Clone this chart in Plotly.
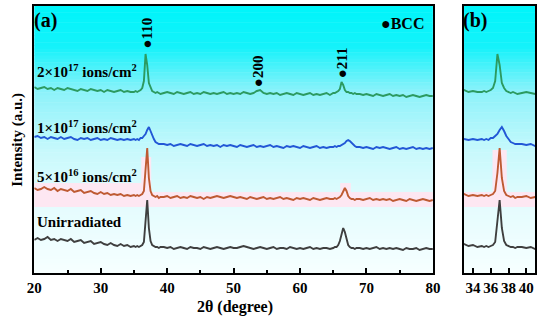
import plotly.graph_objects as go

# ---------------- data ----------------
two_theta = [
    20.0, 20.5, 21.0, 21.5, 22.0, 22.5, 23.0, 23.5, 24.0, 24.5,
    25.0, 25.5, 26.0, 26.5, 27.0, 27.5, 28.0, 28.5, 29.0, 29.5,
    30.0, 30.5, 31.0, 31.5, 32.0, 32.5, 33.0, 33.5, 34.0, 34.5,
    35.0, 35.25, 35.5, 35.75, 36.0, 36.25, 36.5, 36.75, 37.0, 37.25,
    37.5, 37.75, 38.0, 38.25, 38.5, 38.75, 39.0,
    39.5, 40.0, 40.5, 41.0, 41.5, 42.0, 42.5, 43.0, 43.5, 44.0,
    44.5, 45.0, 45.5, 46.0, 46.5, 47.0, 47.5, 48.0, 48.5, 49.0,
    49.5, 50.0, 50.5, 51.0, 51.5, 52.0, 52.5, 53.0, 53.5, 54.0,
    54.5, 55.0, 55.5, 56.0, 56.5, 57.0, 57.5, 58.0, 58.5, 59.0,
    59.5, 60.0, 60.5, 61.0, 61.5, 62.0, 62.5, 63.0, 63.5, 64.0, 64.5,
    65.0, 65.25, 65.5, 65.75, 66.0, 66.25, 66.5, 66.75, 67.0, 67.25,
    67.5, 67.75, 68.0, 68.25, 68.5,
    69.0, 69.5, 70.0, 70.5, 71.0, 71.5, 72.0, 72.5, 73.0, 73.5,
    74.0, 74.5, 75.0, 75.5, 76.0, 76.5, 77.0, 77.5, 78.0, 78.5,
    79.0, 79.5, 80.0,
]

unirradiated = [
    33, 35, 33, 34, 36, 33, 34, 32, 34, 33, 32, 34, 31, 32, 33, 30, 31, 32, 29, 30,
    31, 29, 28, 30, 28, 27, 29, 27, 28, 26,
    27, 26, 27, 26, 27, 28, 31, 50, 73, 45, 32, 28, 27, 26, 26, 25, 26,
    26, 25, 26, 24, 25, 26, 25, 24, 26, 25, 25, 24, 26, 25, 24, 25, 26, 25, 24, 25,
    26, 25, 25, 26, 27, 26, 25, 24, 25, 26, 25, 24, 25, 26, 24, 25, 25, 24, 26, 25,
    24, 25, 24, 25, 26, 24, 25, 24, 25, 25, 24,
    25, 26, 26, 28, 32, 39, 45, 41, 33, 28, 26, 25, 25, 24, 25,
    25, 24, 25, 24, 25, 26, 24, 25, 24, 25, 24, 25, 24, 23, 25, 24, 24, 25, 23, 24,
    25, 24, 24,
]

fluence_5e16 = [
    85, 83, 84, 86, 84, 83, 85, 82, 84, 83, 82, 84, 81, 82, 83, 80, 81, 82, 80, 79,
    81, 79, 80, 78, 79, 78, 79, 77, 78, 77,
    78, 77, 78, 77, 78, 79, 82, 100, 125, 95, 82, 78, 77, 76, 77, 75, 76,
    76, 77, 75, 76, 77, 75, 76, 75, 77, 76, 75, 76, 74, 76, 75, 76, 77, 76, 75, 76,
    77, 76, 75, 76, 75, 74, 76, 75, 74, 75, 76, 74, 75, 74, 75, 76, 74, 75, 74, 73,
    75, 74, 75, 74, 73, 75, 74, 73, 74, 75, 74,
    74, 75, 74, 75, 76, 78, 81, 85, 82, 77, 75, 74, 74, 73, 74,
    74, 73, 74, 75, 73, 74, 73, 74, 73, 74, 72, 73, 74, 73, 72, 74, 73, 72, 73, 74,
    73, 72, 73,
]

fluence_1e17 = [
    136, 137, 135, 136, 134, 136, 135, 134, 136, 134, 135, 136, 134, 133, 135, 134, 135, 133, 134, 135,
    133, 134, 133, 135, 134, 133, 134, 133, 134, 133,
    134, 133, 134, 133, 135, 135, 137, 139, 143, 146, 142, 137, 134, 131, 130, 129, 129,
    129, 128, 129, 127, 128, 129, 128, 127, 129, 128, 127, 128, 129, 127, 128, 127, 128, 126, 128, 127,
    128, 127, 126, 128, 127, 126, 127, 128, 126, 127, 126, 127, 128, 126, 127, 126, 125, 127, 126, 127,
    126, 125, 127, 126, 125, 126, 127, 125, 126, 125, 126,
    126, 127, 126, 127, 127, 128, 129, 130, 132, 133, 132, 130, 128, 127, 126,
    126, 125, 126, 125, 124, 126, 125, 126, 125, 124, 125, 126, 124, 125, 124, 125, 126, 124, 125, 124,
    125, 124, 125,
]

fluence_2e17 = [
    186, 184, 185, 186, 184, 185, 183, 185, 184, 183, 185, 184, 183, 182, 184, 183, 182, 184, 183, 182,
    183, 181, 183, 182, 181, 182, 183, 181, 182, 181,
    181, 182, 181, 182, 183, 185, 192, 219, 208, 190, 185, 182, 181, 180, 181, 180, 179,
    180, 181, 180, 179, 181, 180, 179, 180, 181, 179, 180, 179, 181, 180, 179, 180, 179, 180, 181, 179,
    180, 179, 180, 179, 181, 180, 179, 180, 182, 183, 180, 179, 180, 179, 180, 178, 179, 180, 179, 178,
    180, 179, 178, 179, 180, 178, 179, 178, 179, 180, 178,
    180, 180, 181, 182, 184, 191, 188, 183, 181, 181, 180, 180, 179, 180, 179,
    179, 178, 179, 178, 177, 179, 178, 177, 178, 179, 177, 178, 177, 178, 176, 177, 178, 177, 176, 177,
    178, 177, 177,
]

series_names = ["Unirradiated", "5×10<sup>16</sup> ions/cm<sup>2</sup>",
                "1×10<sup>17</sup> ions/cm<sup>2</sup>", "2×10<sup>17</sup> ions/cm<sup>2</sup>"]
series_values = [unirradiated, fluence_5e16, fluence_1e17, fluence_2e17]
series_colors = ["#3F3F3F", "#BE5A32", "#2257D6", "#2C9A60"]
label_y = [51, 97, 146, 202]

peak_labels = ["●110", "●200", "●211"]
peak_x = [36.9, 53.7, 66.35]
peak_y = [240, 202, 210]

xticks_a = [20, 30, 40, 50, 60, 70, 80]
xticks_b = [34, 36, 38, 40]

# ---------------- figure ----------------
FONT = "Liberation Serif"
fig = go.Figure()

for vals, col in zip(series_values, series_colors):
    for xa, ya in (("x", "y"), ("x2", "y2")):
        fig.add_trace(go.Scatter(x=two_theta, y=vals, mode="lines", xaxis=xa, yaxis=ya,
                                 line=dict(color=col, width=1.9), showlegend=False,
                                 hoverinfo="skip"))

# gradient background (cyan -> white)
stops = [(0.0, (0, 245, 250)), (0.15, (20, 242, 250)), (0.32, (140, 242, 250)),
         (0.55, (200, 249, 252)), (0.75, (228, 252, 254)), (1.0, (246, 255, 255))]


def grad(t):
    for (t0, c0), (t1, c1) in zip(stops[:-1], stops[1:]):
        if t0 <= t <= t1:
            f = (t - t0) / (t1 - t0)
            return "rgb(%d,%d,%d)" % tuple(round(a + (b - a) * f) for a, b in zip(c0, c1))
    return "rgb(246,255,255)"


shapes = []
N = 80
for ax in ("x", "x2"):
    yr = "y" if ax == "x" else "y2"
    for i in range(N):
        t = i / (N - 1)
        shapes.append(dict(type="rect", xref=ax + " domain", yref=yr + " domain",
                           x0=0, x1=1, y0=1 - (i + 1) / N, y1=1 - i / N + 0.002,
                           fillcolor=grad(t), line=dict(width=0), layer="below"))

pink = "rgb(253,231,242)"
# pink band behind the 5e16 trace
shapes.append(dict(type="rect", xref="x domain", yref="y", x0=0, x1=1, y0=66, y1=81,
                   fillcolor=pink, line=dict(width=0), layer="below"))
shapes.append(dict(type="rect", xref="x", yref="y", x0=20, x1=36.2, y0=81, y1=90,
                   fillcolor=pink, line=dict(width=0), layer="below"))
shapes.append(dict(type="rect", xref="x", yref="y", x0=36.1, x1=37.6, y0=81, y1=116,
                   fillcolor=pink, line=dict(width=0), layer="below"))
shapes.append(dict(type="rect", xref="x", yref="y", x0=66.05, x1=67.65, y0=81, y1=90,
                   fillcolor=pink, line=dict(width=0), layer="below"))
shapes.append(dict(type="rect", xref="x2 domain", yref="y2", x0=0, x1=1, y0=66, y1=81,
                   fillcolor=pink, line=dict(width=0), layer="below"))
shapes.append(dict(type="rect", xref="x2", yref="y2", x0=36.2, x1=37.8, y0=81, y1=123,
                   fillcolor=pink, line=dict(width=0), layer="below"))


def bfont(size):
    return dict(family=FONT, size=size, color="black", weight="bold")


ann = []
for name, ly in zip(series_names, label_y):
    ann.append(dict(text=name, x=20.05, y=ly, xref="x", yref="y",
                    xanchor="left", yanchor="middle", showarrow=False, font=bfont(15)))
for t, px, py in zip(peak_labels, peak_x, peak_y):
    ann.append(dict(text=t, x=px, y=py, xref="x", yref="y", textangle=-90,
                    xanchor="center", yanchor="middle", showarrow=False, font=bfont(15)))
ann.append(dict(text="●BCC", x=406 / 550, y=1 - 24 / 320, xref="paper", yref="paper",
                xanchor="center", yanchor="middle", showarrow=False, font=bfont(16)))
ann.append(dict(text="(a)", x=40 / 550, y=1 - 20 / 320, xref="paper", yref="paper",
                xanchor="center", yanchor="middle", showarrow=False, font=bfont(20)))
ann.append(dict(text="(b)", x=480 / 550, y=1 - 20 / 320, xref="paper", yref="paper",
                xanchor="center", yanchor="middle", showarrow=False, font=bfont(20)))
ann.append(dict(text="2θ (degree)", x=234 / 550, y=1 - 307 / 320, xref="paper", yref="paper",
                xanchor="center", yanchor="middle", showarrow=False, font=bfont(16)))
ann.append(dict(text="Intensity (a.u.)", x=10 / 550, y=1 - 140 / 320, xref="paper", yref="paper",
                textangle=-90, xanchor="center", yanchor="middle", showarrow=False, font=bfont(15)))

xcommon = dict(showline=True, linecolor="black", linewidth=2, mirror=True, showgrid=False,
               zeroline=False, ticks="inside", ticklen=5, tickwidth=1.5, tickcolor="black",
               tickfont=bfont(15))
ycommon = dict(showline=True, linecolor="black", linewidth=2, mirror=True, showgrid=False,
               zeroline=False, showticklabels=False, ticks="", range=[0, 267])

ydom = [1 - 273 / 320, 1 - 6 / 320]
fig.update_layout(
    width=550, height=320, margin=dict(l=0, r=0, t=0, b=0),
    paper_bgcolor="white", plot_bgcolor="white",
    font=dict(family=FONT, size=14, color="black"),
    xaxis=dict(domain=[28 / 550, 437 / 550], range=[20, 80], tickvals=xticks_a,
               minor=dict(ticks="inside", ticklen=3, tickwidth=1.5, tickcolor="black", dtick=5),
               anchor="y", **xcommon),
    yaxis=dict(domain=ydom, anchor="x", **ycommon),
    xaxis2=dict(domain=[469 / 550, 542 / 550], range=[33, 41], tickvals=xticks_b,
                anchor="y2", **xcommon),
    yaxis2=dict(domain=ydom, anchor="x2", **ycommon),
    shapes=shapes, annotations=ann,
)

fig.write_html("out.html", config={"displayModeBar": False},
               post_script="document.body.style.margin='0';document.body.style.overflow='hidden';")
